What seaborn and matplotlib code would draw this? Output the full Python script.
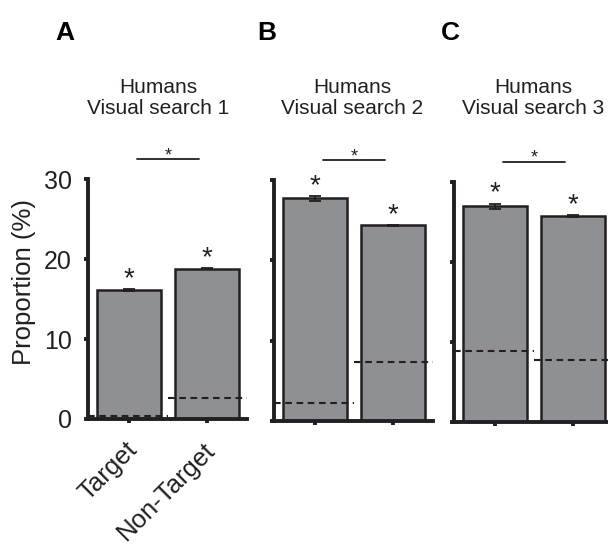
import matplotlib
matplotlib.use("Agg")
import matplotlib.pyplot as plt
import matplotlib.transforms as mtransforms
import pandas as pd
import seaborn as sns

# ---- data -------------------------------------------------------------
conditions = ["Target", "Non-Target"]
panel_letters = ["A", "B", "C"]
panel_titles = ["Humans\nVisual search 1",
                "Humans\nVisual search 2",
                "Humans\nVisual search 3"]

vs1_mean = [16.1, 18.8]
vs1_sem = [0.1, 0.1]
vs1_chance = [0.4, 2.6]

vs2_mean = [27.7, 24.35]
vs2_sem = [0.35, 0.1]
vs2_chance = [2.2, 7.3]

vs3_mean = [26.9, 25.7]
vs3_sem = [0.35, 0.1]
vs3_chance = [8.8, 7.7]

y_ticks = [0, 10, 20, 30]
y_label = "Proportion (%)"

# ---- style ------------------------------------------------------------
sns.set_style("ticks")
plt.rcParams["font.family"] = ["Liberation Sans", "DejaVu Sans"]

W, H = 608, 546
BAR = "#8e9094"
INK = "#231f20"

fig = plt.figure(figsize=(W / 100, H / 100), dpi=100)


def px_box(x0, ytop, w, h):
    return [x0 / W, 1 - (ytop + h) / H, w / W, h / H]


panels = [
    (vs1_mean, vs1_sem, vs1_chance, px_box(88, 179, 159, 240), 158),
    (vs2_mean, vs2_sem, vs2_chance, px_box(274, 180, 159, 241), 352),
    (vs3_mean, vs3_sem, vs3_chance, px_box(454, 181.5, 159, 240), 533),
]
letter_x = [55, 257, 441]
XLIM = (-0.525, 1.51)

for k, (means, sems, chance, box, title_x) in enumerate(panels):
    ax = fig.add_axes(box)
    df = pd.DataFrame({"condition": conditions, "proportion": means})
    sns.barplot(data=df, x="condition", y="proportion", ax=ax,
                color=BAR, saturation=1, edgecolor=INK, linewidth=1.8,
                width=0.82, errorbar=None, zorder=2)
    ax.errorbar(range(len(means)), means, yerr=sems, fmt="none",
                ecolor=INK, elinewidth=1.3, capsize=4.5, capthick=1.3,
                zorder=3)

    # chance level per condition
    spans = [(XLIM[0], 0.5), (0.5, XLIM[1])]
    for (x0, x1), c in zip(spans, chance):
        ax.plot([x0, x1], [c, c], color=INK, lw=1.5,
                linestyle=(0, (3.2, 2.2)), zorder=4, clip_on=False)

    # significance stars above bars
    for i, (m, s) in enumerate(zip(means, sems)):
        ax.text(i, m + s + 0.35, "*", ha="center", va="baseline",
                fontsize=20, color=INK)

    # comparison bracket
    ax.plot([0.1, 0.9], [32.5, 32.5], color=INK, lw=1.3, clip_on=False)
    ax.text(0.5, 32.35, "*", ha="center", va="baseline", fontsize=13,
            color=INK)

    ax.set_xlim(*XLIM)
    ax.set_ylim(0, 30)
    ax.set_yticks(y_ticks)
    ax.set_xlabel("")
    ax.set_ylabel("")
    sns.despine(ax=ax)
    for side in ("left", "bottom"):
        ax.spines[side].set_linewidth(2.8)
        ax.spines[side].set_color(INK)
    ax.tick_params(axis="both", direction="out", length=3, width=2.8,
                   color=INK, labelcolor="#231f20")
    ax.tick_params(axis="y", labelsize=18, pad=8.5)
    ax.tick_params(axis="x", labelsize=18.5, pad=10.5)

    if k == 0:
        offset = mtransforms.ScaledTranslation(-4 / 100, 0,
                                               fig.dpi_scale_trans)
        for lab in ax.get_xticklabels():
            lab.set_rotation(45)
            lab.set_ha("right")
            lab.set_va("top")
            lab.set_rotation_mode("anchor")
            lab.set_transform(lab.get_transform() + offset)
    else:
        ax.set_xticklabels([])
        ax.set_yticklabels([])

    fig.text(title_x / W, 1 - 78 / H, panel_titles[k], ha="center",
             va="top", fontsize=15, linespacing=1.15, color="#231f20")
    fig.text(letter_x[k] / W, 1 - 21 / H, panel_letters[k], ha="left",
             va="top", fontsize=19, fontweight="bold", color="black")

fig.text(24 / W, 1 - 282 / H, y_label, rotation=90, ha="center",
         va="center", fontsize=18.5, color="#231f20")

fig.savefig("out.png", dpi=100)
